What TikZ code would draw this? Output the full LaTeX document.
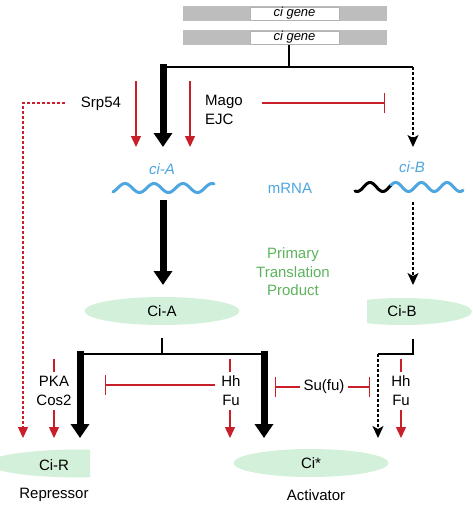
\documentclass[tikz,border=0pt]{standalone}
\usepackage{fontspec}
\setmainfont{Liberation Sans}
\usetikzlibrary{arrows.meta,shapes.geometric}
\definecolor{cred}{HTML}{C8202A}
\definecolor{cblue}{HTML}{4DA6E0}
\definecolor{cgreen}{HTML}{5DB35D}
\definecolor{cfill}{HTML}{D3F0DA}
\definecolor{cgray}{HTML}{BDBDBD}
\begin{document}
\begin{tikzpicture}[x=1pt,y=-1pt, font=\fontsize{15}{19}\selectfont,
 thickarrow/.style={line width=7pt,-{Triangle[width=18pt,length=14pt]}},
 redarrow/.style={cred,line width=1.3pt,-{Triangle[width=10pt,length=11pt]}},
 redline/.style={cred,line width=1.3pt},
 dasharrow/.style={black,line width=1.3pt,dash pattern=on 3pt off 2pt,-{Stealth[width=11pt,length=12pt,inset=3pt]}},
 reddash/.style={cred,line width=1.3pt,dash pattern=on 3pt off 2pt,-{Triangle[width=10pt,length=11pt]}},
 inhib/.style={cred,line width=1.2pt,-{Bar[width=20pt]}},
 conn/.style={black,line width=1.4pt},
 lab/.style={inner sep=1pt, align=center},
 genebox/.style={draw=gray!60, fill=white, minimum width=89pt, minimum height=13pt, inner sep=0pt, font=\fontsize{13}{14}\selectfont\itshape},
 prot/.style={ellipse, fill=cfill, minimum width=155pt, minimum height=28pt, inner sep=0pt},
 wave/.style={line width=3pt, line cap=round},
]
\useasboundingbox (0,0) rectangle (472,506);
% gene bars
\node[fill=cgray, minimum width=204pt, minimum height=15pt, inner sep=0pt] (bar1) at (285,13.5) {};
\node[genebox] (gene1) at (294.5,13.5) {ci gene};
\node[fill=cgray, minimum width=204pt, minimum height=15pt, inner sep=0pt] (bar2) at (285,37.5) {};
\node[genebox] (gene2) at (294.5,37.5) {ci gene};
\coordinate (gb) at (289,45);
\coordinate (gj) at (289,67);
\coordinate (tl) at (163,67);
\coordinate (tr) at (413,67);
\coordinate (ciAtop) at (163,147);
\coordinate (ciBtop) at (413,147);
\draw[conn] (gb) -- (gj);
\draw[conn] (tl) -- (tr);
\draw[thickarrow] (163,63.5) -- (ciAtop);
\draw[dasharrow] (tr) -- (ciBtop);
% red arrows top
\coordinate (r1a) at (136,81); \coordinate (r1b) at (136,147);
\coordinate (r2a) at (190,81); \coordinate (r2b) at (190,147);
\draw[redarrow] (r1a) -- (r1b);
\draw[redarrow] (r2a) -- (r2b);
\node[lab] (srp) at (101,104) {Srp54};
\coordinate (sd1) at (65,103); \coordinate (sd2) at (23,103); \coordinate (sd3) at (23,438);
\draw[reddash] (sd1) -- (sd2) -- (sd3);
\node[lab, anchor=west, align=left] (mago) at (204,110) {Mago\\EJC};
\coordinate (m1) at (262,103); \coordinate (m2) at (385,103);
\draw[inhib] (m1) -- (m2);
% mRNA
\node[lab, text=cblue, font=\fontsize{15}{19}\selectfont\itshape] (ciAl) at (162,169) {ci-A};
\node[lab, text=cblue, font=\fontsize{15}{19}\selectfont\itshape] (ciBl) at (412,167) {ci-B};
\node[lab, text=cblue] (mrna) at (290,188) {mRNA};
\draw[wave, cblue] plot[domain=113:214, samples=90] (\x, {188-4.5*cos(((\x-125)/29)*360)});
\draw[wave, black] plot[domain=355:391, samples=40] (\x, {187-4.5*cos(((\x-370)/25.7)*360)});
\draw[wave, cblue] plot[domain=391:463, samples=70] (\x, {187-4.5*cos(((\x-370)/25.7)*360)});
% translation
\coordinate (a1) at (163,200); \coordinate (a2) at (163,285);
\draw[thickarrow] (a1) -- (a2);
\coordinate (b1) at (413,202); \coordinate (b2) at (413,285);
\draw[dasharrow] (b1) -- (b2);
\node[lab, text=cgreen, font=\fontsize{15}{18.5}\selectfont] (ptp) at (293,272) {Primary\\Translation\\Product};
\node[prot] (ciA) at (162,311) {Ci-A};
\begin{scope}
\clip (367,290) rectangle (472,330);
\fill[cfill] (402,311.5) ellipse [x radius=70, y radius=13.5];
\end{scope}
\node[lab] (ciB) at (402,311) {Ci-B};
% lower section
\coordinate (ca1) at (162,338); \coordinate (ca2) at (162,354);
\draw[conn] (ca1) -- (ca2);
\coordinate (hl) at (76.5,354); \coordinate (hr) at (267.5,354);
\draw[conn] (hl) -- (hr);
\coordinate (tA1) at (80,350.5); \coordinate (tA2) at (80,438);
\coordinate (tB1) at (264,350.5); \coordinate (tB2) at (264,438);
\draw[thickarrow] (tA1) -- (tA2);
\draw[thickarrow] (tB1) -- (tB2);
\coordinate (cb1) at (413,339); \coordinate (cb2) at (413,354); \coordinate (cb3) at (378,354); \coordinate (cb4) at (378,438);
\draw[conn] (cb1) -- (cb2) -- (cb3);
\draw[dasharrow] (cb3) -- (cb4);
% PKA Cos2
\node[lab] (pka) at (54,391) {PKA\\Cos2};
\coordinate (p1) at (54,359); \coordinate (p2) at (54,372);
\coordinate (p3) at (54,410); \coordinate (p4) at (54,438);
\draw[redline] (p1) -- (p2);
\draw[redarrow] (p3) -- (p4);
% Hh Fu left
\node[lab] (hh1) at (231,391) {Hh\\Fu};
\coordinate (h1) at (230,359); \coordinate (h2) at (230,372);
\coordinate (h3) at (230,410); \coordinate (h4) at (230,438);
\draw[redline] (h1) -- (h2);
\draw[redarrow] (h3) -- (h4);
\coordinate (i1) at (215,385); \coordinate (i2) at (105,385);
\draw[inhib] (i1) -- (i2);
% Su(fu)
\node[lab] (sufu) at (324,387) {Su(fu)};
\coordinate (s1) at (300,387); \coordinate (s2) at (275,387);
\coordinate (s3) at (348,387); \coordinate (s4) at (370,387);
\draw[inhib] (s1) -- (s2);
\draw[inhib] (s3) -- (s4);
% Hh Fu right
\node[lab] (hh2) at (401,391) {Hh\\Fu};
\coordinate (k1) at (401,359); \coordinate (k2) at (401,372);
\coordinate (k3) at (401,410); \coordinate (k4) at (401,438);
\draw[redline] (k1) -- (k2);
\draw[redarrow] (k3) -- (k4);
% products
\begin{scope}
\clip (0,440) rectangle (90,490);
\fill[cfill] (80,463.5) ellipse [x radius=92, y radius=14];
\end{scope}
\node[lab] (ciR) at (54,465) {Ci-R};
\node[prot] (cistar) at (311,463) {Ci*};
\node[lab] (rep) at (54,495) {Repressor};
\node[lab] (act) at (316,495) {Activator};
\end{tikzpicture}
\end{document}
